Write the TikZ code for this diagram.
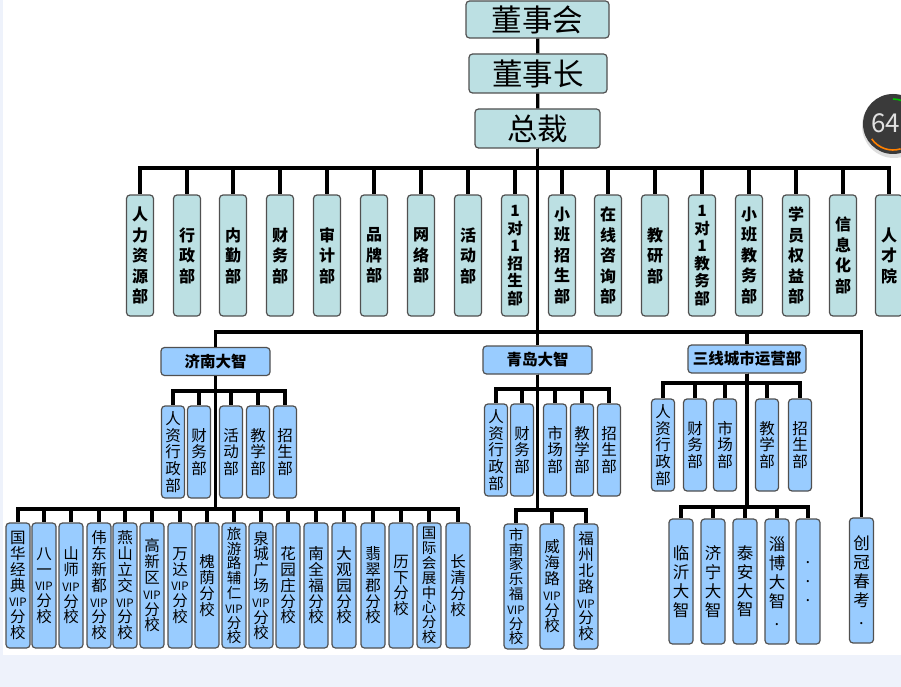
\documentclass[tikz,border=0pt]{standalone}
\usepackage{fontspec}
\setmainfont{Noto Sans CJK SC}
\definecolor{tealbox}{RGB}{188,224,227}
\definecolor{bluebox}{RGB}{153,204,255}
\definecolor{boxline}{RGB}{80,80,80}
\definecolor{pagebg}{RGB}{238,242,251}
\definecolor{dialbg}{RGB}{58,58,58}
\newcommand{\vip}{{\fontsize{11.5}{12}\selectfont VIP}}
\newcommand{\orgconn}[3]{\draw[link] (#1.south) |- (#2 -| #3) -- (#3.north);}
\begin{document}
\begin{tikzpicture}[x=1pt,y=-1pt,
  box/.style={draw=boxline, line width=1.2pt, rounded corners=3.5pt, inner sep=0pt, align=center, text=black},
  head/.style={box, fill=tealbox, font=\fontsize{30.5}{32}\selectfont},
  dept/.style={box, fill=tealbox, minimum width=27pt, minimum height=121pt, font=\bfseries\fontsize{16}{20.5}\selectfont},
  deptsix/.style={dept, font=\bfseries\fontsize{15.5}{17.5}\selectfont},
  branch/.style={box, fill=bluebox, minimum height=28pt, font=\bfseries\fontsize{15.5}{16}\selectfont},
  subbox/.style={box, fill=bluebox, minimum width=23pt, minimum height=92pt, font=\fontsize{15.5}{16.8}\selectfont},
  school/.style={box, fill=bluebox, minimum width=24pt, minimum height=125pt, font=\fontsize{15.5}{15.8}\selectfont},
  schooltight/.style={school, font=\fontsize{14.5}{14.8}\selectfont},
  city/.style={school, font=\fontsize{16.5}{18.8}\selectfont},
  link/.style={line width=3.2pt, draw=black}
]
\fill[pagebg] (0,0) rectangle (901,687);
\fill[white] (3,0) rectangle (901,655);
\useasboundingbox (0,0) rectangle (901,687);

% top chain
\node[head, minimum width=143pt, minimum height=37pt] (dsh) at (537.5,19.5) {董事会};
\node[head, minimum width=138pt, minimum height=39pt] (dsz) at (538,73.5) {董事长};
\node[head, minimum width=125pt, minimum height=39pt] (zc) at (537.5,128.5) {总裁};
\draw[link] (dsh) -- (dsz);
\draw[link] (dsz) -- (zc);

% departments
\coordinate (b1) at (538,168);
\node[dept] (d1) at (140,255.5) {人\\力\\资\\源\\部};
\node[dept] (d2) at (187,255.5) {行\\政\\部};
\node[dept] (d3) at (233,255.5) {内\\勤\\部};
\node[dept] (d4) at (280,255.5) {财\\务\\部};
\node[dept] (d5) at (327,255.5) {审\\计\\部};
\node[dept] (d6) at (374,255.5) {品\\牌\\部};
\node[dept] (d7) at (421,255.5) {网\\络\\部};
\node[dept] (d8) at (468,255.5) {活\\动\\部};
\node[deptsix] (d9) at (515,255.5) {1\\对\\1\\招\\生\\部};
\node[dept] (d10) at (562,255.5) {小\\班\\招\\生\\部};
\node[dept] (d11) at (608,255.5) {在\\线\\咨\\询\\部};
\node[dept] (d12) at (655,255.5) {教\\研\\部};
\node[deptsix] (d13) at (702,255.5) {1\\对\\1\\教\\务\\部};
\node[dept] (d14) at (749,255.5) {小\\班\\教\\务\\部};
\node[dept] (d15) at (796,255.5) {学\\员\\权\\益\\部};
\node[dept] (d16) at (843,255.5) {信\\息\\化\\部};
\node[dept] (d17) at (889,255.5) {人\\才\\院};
\foreach \i in {1,...,17} {\orgconn{zc}{b1}{d\i}}

% second level
\coordinate (b2) at (538,332);
\node[branch, minimum width=109pt] (jn) at (215.5,361.5) {济南大智};
\node[branch, minimum width=109pt] (qd) at (537.5,360) {青岛大智};
\node[branch, minimum width=118pt] (sx) at (747,359) {三线城市运营部};
\node[city] (cg) at (861.5,580.5) {创\\冠\\春\\考\\.};
\draw[link] (zc) -- (qd);
\orgconn{zc}{b2}{jn}
\orgconn{zc}{b2}{sx}
\orgconn{zc}{b2}{cg}

% Jinan departments
\coordinate (jb) at (215.5,391);
\node[subbox] (j1) at (173,452) {人\\资\\行\\政\\部};
\node[subbox] (j2) at (199,452) {财\\务\\部};
\node[subbox] (j3) at (231,452) {活\\动\\部};
\node[subbox] (j4) at (258,452) {教\\学\\部};
\node[subbox] (j5) at (285,452) {招\\生\\部};
\foreach \i in {1,...,5} {\orgconn{jn}{jb}{j\i}}

% Jinan schools
\coordinate (js) at (215.5,509);
\node[school] (s1) at (18,585.5) {国\\华\\经\\典\\\vip\\分\\校};
\node[school] (s2) at (44,585.5) {八\\一\\\vip\\分\\校};
\node[school] (s3) at (71,585.5) {山\\师\\\vip\\分\\校};
\node[school] (s4) at (99,585.5) {伟\\东\\新\\都\\\vip\\分\\校};
\node[school] (s5) at (125,585.5) {燕\\山\\立\\交\\\vip\\分\\校};
\node[school] (s6) at (152,585.5) {高\\新\\区\\\vip\\分\\校};
\node[school] (s7) at (180,585.5) {万\\达\\\vip\\分\\校};
\node[school] (s8) at (207,585.5) {槐\\荫\\分\\校};
\node[schooltight] (s9) at (234,585.5) {旅\\游\\路\\辅\\仁\\\vip\\分\\校};
\node[school] (s10) at (261,585.5) {泉\\城\\广\\场\\\vip\\分\\校};
\node[school] (s11) at (288,585.5) {花\\园\\庄\\分\\校};
\node[school] (s12) at (316,585.5) {南\\全\\福\\分\\校};
\node[school] (s13) at (344,585.5) {大\\观\\园\\分\\校};
\node[school] (s14) at (373,585.5) {翡\\翠\\郡\\分\\校};
\node[school] (s15) at (401,585.5) {历\\下\\分\\校};
\node[schooltight] (s16) at (429,585.5) {国\\际\\会\\展\\中\\心\\分\\校};
\node[school] (s17) at (458,585.5) {长\\清\\分\\校};
\foreach \i in {1,...,17} {\orgconn{jn}{js}{s\i}}

% Qingdao departments
\coordinate (qb) at (537.5,389);
\node[subbox] (q1) at (496,450) {人\\资\\行\\政\\部};
\node[subbox] (q2) at (522,450) {财\\务\\部};
\node[subbox] (q3) at (555,450) {市\\场\\部};
\node[subbox] (q4) at (582,450) {教\\学\\部};
\node[subbox] (q5) at (609,450) {招\\生\\部};
\foreach \i in {1,...,5} {\orgconn{qd}{qb}{q\i}}

% Qingdao schools
\coordinate (qs) at (537.5,510);
\node[schooltight] (t1) at (516,586.5) {市\\南\\家\\乐\\福\\\vip\\分\\校};
\node[school] (t2) at (552,586.5) {威\\海\\路\\\vip\\分\\校};
\node[school] (t3) at (586,586.5) {福\\州\\北\\路\\\vip\\分\\校};
\foreach \i in {1,...,3} {\orgconn{qd}{qs}{t\i}}

% third-tier city departments
\coordinate (xb) at (747,383);
\node[subbox] (x1) at (663,445) {人\\资\\行\\政\\部};
\node[subbox] (x2) at (695,445) {财\\务\\部};
\node[subbox] (x3) at (725,445) {市\\场\\部};
\node[subbox] (x4) at (767,445) {教\\学\\部};
\node[subbox] (x5) at (800,445) {招\\生\\部};
\foreach \i in {1,...,5} {\orgconn{sx}{xb}{x\i}}

% cities
\coordinate (xs) at (747,507);
\node[city] (c1) at (681,581.5) {临\\沂\\大\\智};
\node[city] (c2) at (713,581.5) {济\\宁\\大\\智};
\node[city] (c3) at (745,581.5) {泰\\安\\大\\智};
\node[city] (c4) at (777,581.5) {淄\\博\\大\\智\\.};
\node[city] (c5) at (808,581.5) {.\\.\\.};
\foreach \i in {1,...,5} {\orgconn{sx}{xs}{c\i}}

% dial overlay
\fill[black!25, opacity=0.5] (894,126) circle (32pt);
\fill[dialbg] (893,124) circle (30pt);
\draw[green!75!black, line width=1.6pt] (893,124) ++(-90:25) arc[start angle=-90, end angle=-68, radius=25];
\draw[orange, line width=1.6pt] (893,124) ++(73:26) arc[start angle=73, end angle=145, radius=26];
\node[font=\fontsize{26}{28}\selectfont, text=black!12, inner sep=0pt] (dial) at (885.5,123) {64};
\end{tikzpicture}
\end{document}
